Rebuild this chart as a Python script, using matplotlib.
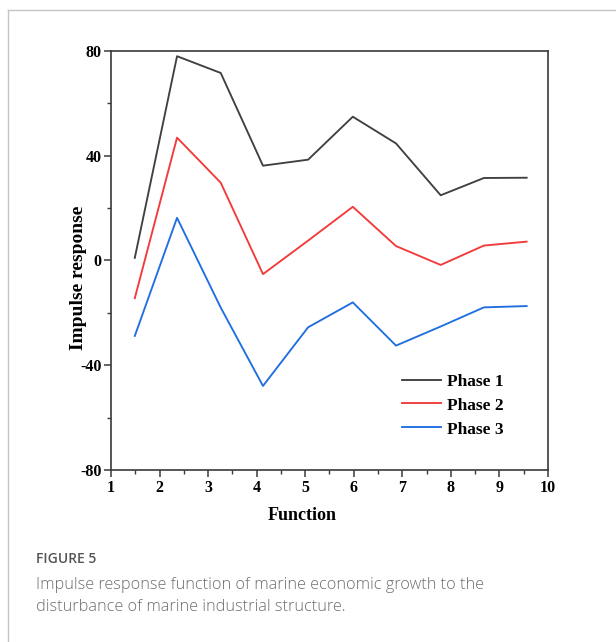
import matplotlib.pyplot as plt
from matplotlib.lines import Line2D

plt.rcParams['axes.unicode_minus'] = False

# impulse response values for each phase
periods = [1.49, 2.36, 3.26, 4.13, 5.06, 5.98, 6.87, 7.79, 8.68, 9.56]
phase1 = [1.0, 78.0, 71.6, 36.2, 38.5, 54.9, 44.7, 24.9, 31.5, 31.6]
phase2 = [-14.4, 46.9, 29.7, -5.2, 7.6, 20.5, 5.5, -1.7, 5.7, 7.2]
phase3 = [-28.8, 16.3, -18.0, -47.9, -25.5, -16.0, -32.5, -25.2, -17.9, -17.4]

labels = ['Phase 1', 'Phase 2', 'Phase 3']
colors = ['#404040', '#f23a3a', '#1f6fe0']

fig = plt.figure(figsize=(6.16, 6.42), dpi=100)
ax = fig.add_axes([0.1802, 0.2679, 0.7094, 0.6527])

for vals, lab, col in zip([phase1, phase2, phase3], labels, colors):
    ax.plot(periods, vals, color=col, lw=1.35, label=lab)

ax.set_xlim(1, 10)
ax.set_ylim(-80, 80)
ax.set_xticks(range(1, 11))
ax.set_xticks([i + 0.5 for i in range(1, 10)], minor=True)
ax.set_yticks([-80, -40, 0, 40, 80])
ax.set_yticks([-60, -20, 20, 60], minor=True)

serif = 'Liberation Serif'
for s in ax.spines.values():
    s.set_color('#3a3a3a')
    s.set_linewidth(1.2)
ax.tick_params(which='major', direction='out', length=5, width=1.1, color='#3a3a3a', pad=2)
ax.tick_params(which='minor', direction='out', length=3, width=1.0, color='#3a3a3a')
for t in ax.get_xticklabels() + ax.get_yticklabels():
    t.set_fontfamily(serif)
    t.set_fontweight('bold')
    t.set_fontsize(11.5)

ax.set_xlabel('Function', fontfamily=serif, fontweight='bold', fontsize=13)
ax.xaxis.set_label_coords(0.437, -0.088)
ax.set_ylabel('Impulse response', fontfamily=serif, fontweight='bold', fontsize=14)
ax.yaxis.set_label_coords(-0.055, 0.458)

leg = ax.legend(loc='upper left', bbox_to_anchor=(0.649, 0.247), frameon=False,
                prop={'family': serif, 'weight': 'bold', 'size': 12.5},
                handlelength=2.3, handletextpad=0.3, labelspacing=0.45,
                borderaxespad=0)

# caption below the chart
fig.text(36 / 616, 1 - 559 / 642, 'FIGURE 5', fontfamily='Open Sans', fontsize=10,
         fontweight='semibold', color='#555555', va='center', ha='left')
fig.text(36 / 616, 1 - 585 / 642,
         'Impulse response function of marine economic growth to the',
         fontfamily='Open Sans', fontsize=11.7, fontweight='light', color='#6e6e6e',
         va='center', ha='left')
fig.text(36 / 616, 1 - 607 / 642,
         'disturbance of marine industrial structure.',
         fontfamily='Open Sans', fontsize=11.7, fontweight='light', color='#6e6e6e',
         va='center', ha='left')

# thin page frame on top and left
fig.add_artist(Line2D([8 / 616, 1], [1 - 10 / 642, 1 - 10 / 642], transform=fig.transFigure,
                      color='#c4c4c4', lw=1.0))
fig.add_artist(Line2D([8 / 616, 8 / 616], [0, 1 - 10 / 642], transform=fig.transFigure,
                      color='#c4c4c4', lw=1.0))

fig.savefig('out.png', dpi=100)
